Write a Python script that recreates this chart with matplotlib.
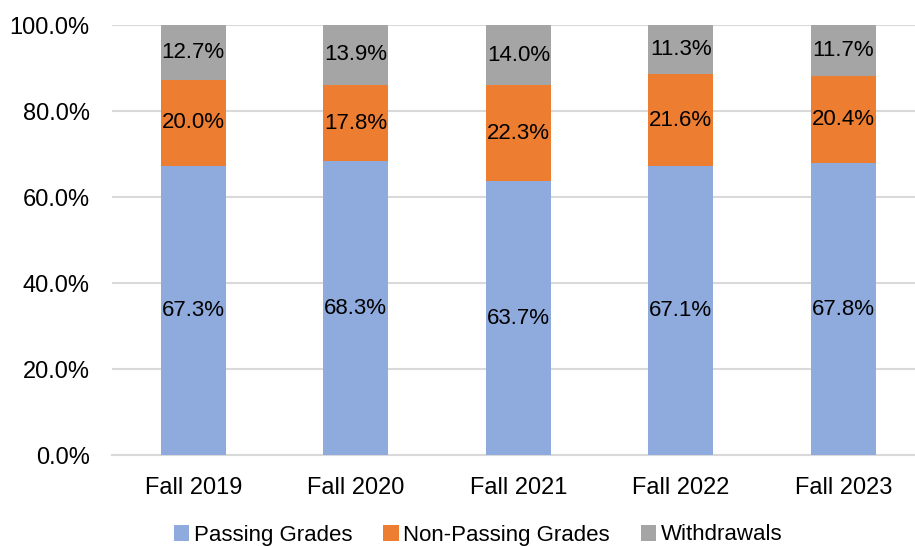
import matplotlib
matplotlib.use("Agg")
import matplotlib.pyplot as plt
from matplotlib.ticker import FuncFormatter
import numpy as np

categories = ["Fall 2019", "Fall 2020", "Fall 2021", "Fall 2022", "Fall 2023"]
passing = [67.3, 68.3, 63.7, 67.1, 67.8]
non_passing = [20.0, 17.8, 22.3, 21.6, 20.4]
withdrawals = [12.7, 13.9, 14.0, 11.3, 11.7]
series_names = ["Passing Grades", "Non-Passing Grades", "Withdrawals"]
colors = ["#8FAADC", "#ED7D31", "#A5A5A5"]

regular = ["Liberation Sans", "DejaVu Sans"]

fig = plt.figure(figsize=(9.15, 5.46), dpi=100)
ax = fig.add_axes([112 / 915, 1 - 455 / 546, (915 - 112) / 915, (455 - 25) / 546])

x = np.arange(len(categories))
bottom = np.zeros(len(categories))
for name, vals, c in zip(series_names, [passing, non_passing, withdrawals], colors):
    vals = np.array(vals)
    ax.bar(x, vals, 0.4, bottom=bottom, color=c, label=name, zorder=3)
    for xi, b, v in zip(x, bottom, vals):
        ax.text(xi, b + v / 2, f"{v:.1f}%", ha="center", va="center",
                fontsize=16, family=regular, color="#000000", zorder=4)
    bottom = bottom + vals

ax.set_ylim(0, 100)
ax.set_xlim(-0.5, 4.44)
ax.set_yticks(np.arange(0, 101, 20))
ax.yaxis.set_major_formatter(FuncFormatter(lambda v, p: f"{v:.1f}%"))
ax.set_xticks(x)
ax.set_xticklabels(categories)
for lab in ax.get_xticklabels():
    lab.set_family(regular)
    lab.set_fontsize(17)
for lab in ax.get_yticklabels():
    lab.set_family(regular)
    lab.set_fontsize(17)

ax.grid(axis="y", color="#D9D9D9", linewidth=1.5, zorder=0)
ax.set_axisbelow(True)
for s in ["top", "right", "left"]:
    ax.spines[s].set_visible(False)
ax.spines["bottom"].set_color("#D9D9D9")
ax.spines["bottom"].set_linewidth(1.5)
ax.tick_params(axis="both", length=0)
ax.tick_params(axis="y", pad=16)
ax.tick_params(axis="x", pad=16)

handles, labels = ax.get_legend_handles_labels()
leg = fig.legend(handles, labels, loc="center", bbox_to_anchor=(478 / 915, 1 - 535 / 546),
                 ncol=3, frameon=False, prop={"family": regular, "size": 16},
                 handlelength=0.7, handleheight=0.7, handletextpad=0.2, columnspacing=1.4,
                 borderpad=0.0)

fig.savefig("out.png", dpi=100)
